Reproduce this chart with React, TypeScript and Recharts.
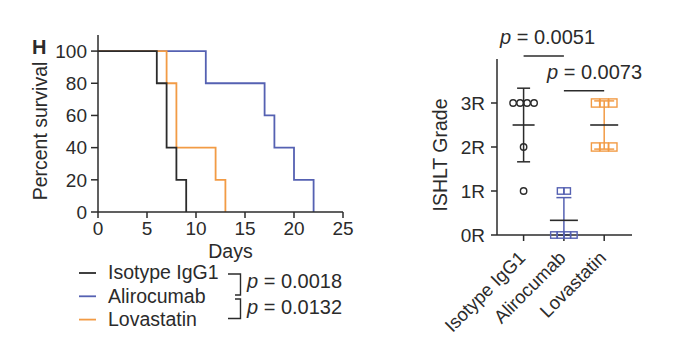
import { LineChart, Line, XAxis, YAxis, ScatterChart, Scatter, ErrorBar, ReferenceLine } from 'recharts';

const FONT = '"Liberation Sans", Arial, Helvetica, sans-serif';
const INK = '#2b2b2b';
const BLUE = '#5561b2';
const ORANGE = '#f29b45';

// Kaplan-Meier steps (day of event, percent surviving after it)
const isotypeDays = [0, 6, 7, 8, 9];
const isotypeSurvival = [100, 80, 40, 20, 0];
const alirocumabDays = [0, 11, 17, 18, 20, 22];
const alirocumabSurvival = [100, 80, 60, 40, 20, 0];
const lovastatinDays = [0, 7, 8, 12, 13];
const lovastatinSurvival = [100, 80, 40, 20, 0];

const dayTicks = [0, 5, 10, 15, 20, 25];
const survivalTicks = [0, 20, 40, 60, 80, 100];

// ISHLT rejection grade per graft
const groups = ['Isotype IgG1', 'Alirocumab', 'Lovastatin'];
const isotypeGrades = [3, 3, 3, 3, 2, 1];
const alirocumabGrades = [1, 1, 0, 0, 0, 0];
const lovastatinGrades = [3, 3, 3, 2, 2, 2];
const gradeTicks = [0, 1, 2, 3];
const gradeLabels = ['0R', '1R', '2R', '3R'];

const survivalPValues = ['0.0018', '0.0132'];
const gradePValues = ['0.0051', '0.0073'];

const zip = (days: number[], pct: number[]) => days.map((d, i) => ({ day: d, pct: pct[i] }));

// spread tied values side by side, like a column scatter
function toPoints(values: number[], group: number) {
  const counts: Record<number, number> = {};
  const seen: Record<number, number> = {};
  values.forEach((v) => (counts[v] = (counts[v] || 0) + 1));
  return values.map((v) => {
    seen[v] = (seen[v] ?? -1) + 1;
    return { group, grade: v, slot: seen[v] - (counts[v] - 1) / 2 };
  });
}

function meanSd(values: number[], group: number) {
  const n = values.length;
  const mean = values.reduce((a, b) => a + b, 0) / n;
  const sd = Math.sqrt(values.reduce((a, b) => a + (b - mean) ** 2, 0) / (n - 1));
  return [{ group, grade: mean, err: [Math.min(sd, mean), sd] }];
}

const circle = (step: number, color: string) => (p: any) => (
  <circle cx={p.cx + p.payload.slot * step} cy={p.cy} r={3.2} fill="none" stroke={color} strokeWidth={1.4} />
);
const square = (step: number, size: number, color: string) => (p: any) => (
  <rect x={p.cx + p.payload.slot * step - size / 2} y={p.cy - size / 2} width={size} height={size} fill="none" stroke={color} strokeWidth={1.4} />
);
const meanBar = (half: number, color: string) => (p: any) => (
  <line x1={p.cx - half} x2={p.cx + half} y1={p.cy} y2={p.cy} stroke={color} strokeWidth={1.6} />
);

function GroupTick({ x, y, payload }: any) {
  const px = x + 3;
  const py = y + 16;
  return (
    <text x={px} y={py} transform={`rotate(-45 ${px} ${py})`} textAnchor="end" fontSize={18.5} fill={INK} fontFamily={FONT}>
      {groups[payload.value - 1]}
    </text>
  );
}

const tickStyle = { fontSize: 19, fill: INK, fontFamily: FONT };
const axisLine = { stroke: INK, strokeWidth: 1.5 };

export default function App() {
  const legend = [
    { name: 'Isotype IgG1', color: INK },
    { name: 'Alirocumab', color: BLUE },
    { name: 'Lovastatin', color: ORANGE },
  ];

  return (
    <div style={{ position: 'absolute', left: 0, top: 0, width: 692, height: 340, background: '#fff', overflow: 'hidden', fontFamily: FONT }}>
      <div style={{ position: 'absolute', left: 0, top: 0 }}>
        <LineChart width={360} height={265} margin={{ top: 35, right: 17, bottom: 0, left: 0 }}>
          <XAxis
            dataKey="day"
            type="number"
            domain={[0, 25]}
            ticks={dayTicks}
            interval={0}
            height={53}
            tickSize={6}
            tickMargin={4}
            tick={tickStyle}
            axisLine={axisLine}
            tickLine={axisLine}
          />
          <YAxis
            type="number"
            domain={[0, 110]}
            ticks={survivalTicks}
            interval={0}
            width={98}
            tickSize={7}
            tickMargin={4}
            tick={tickStyle}
            axisLine={axisLine}
            tickLine={axisLine}
          />
          <Line data={zip(alirocumabDays, alirocumabSurvival)} dataKey="pct" type="stepAfter" stroke={BLUE} strokeWidth={1.8} dot={false} isAnimationActive={false} />
          <Line data={zip(lovastatinDays, lovastatinSurvival)} dataKey="pct" type="stepAfter" stroke={ORANGE} strokeWidth={1.8} dot={false} isAnimationActive={false} />
          <Line data={zip(isotypeDays, isotypeSurvival)} dataKey="pct" type="stepAfter" stroke={INK} strokeWidth={1.8} dot={false} isAnimationActive={false} />
        </LineChart>
      </div>

      <div style={{ position: 'absolute', left: 400, top: 0 }}>
        <ScatterChart width={280} height={340} margin={{ top: 59, right: 48, bottom: 0, left: 0 }}>
          <XAxis
            dataKey="group"
            type="number"
            domain={[0.34, 3.69]}
            ticks={[1, 2, 3]}
            interval={0}
            height={105}
            tickSize={6}
            tick={<GroupTick />}
            axisLine={axisLine}
            tickLine={axisLine}
          />
          <YAxis
            dataKey="grade"
            type="number"
            domain={[0, 4]}
            ticks={gradeTicks}
            interval={0}
            width={97}
            tickSize={6}
            tickMargin={6}
            tickFormatter={(v: number) => gradeLabels[v]}
            tick={tickStyle}
            axisLine={axisLine}
            tickLine={axisLine}
          />
          <ReferenceLine segment={[{ x: 1, y: 4.07 }, { x: 2, y: 4.07 }]} ifOverflow="visible" stroke={INK} strokeWidth={1.5} />
          <ReferenceLine segment={[{ x: 2, y: 3.28 }, { x: 3, y: 3.28 }]} ifOverflow="visible" stroke={INK} strokeWidth={1.5} />

          <Scatter data={meanSd(isotypeGrades, 1)} shape={meanBar(11, INK)} isAnimationActive={false}>
            <ErrorBar dataKey="err" direction="y" width={6.5} stroke={INK} strokeWidth={1.5} />
          </Scatter>
          <Scatter data={meanSd(alirocumabGrades, 2)} shape={meanBar(14, INK)} isAnimationActive={false}>
            <ErrorBar dataKey="err" direction="y" width={7.5} stroke={BLUE} strokeWidth={1.5} />
          </Scatter>
          <Scatter data={meanSd(lovastatinGrades, 3)} shape={meanBar(14, INK)} isAnimationActive={false}>
            <ErrorBar dataKey="err" direction="y" width={10} stroke={ORANGE} strokeWidth={1.5} />
          </Scatter>

          <Scatter data={toPoints(isotypeGrades, 1)} shape={circle(7, INK)} isAnimationActive={false} />
          <Scatter data={toPoints(alirocumabGrades, 2)} shape={square(6.7, 6.4, BLUE)} isAnimationActive={false} />
          <Scatter data={toPoints(lovastatinGrades, 3)} shape={square(8.7, 8.2, ORANGE)} isAnimationActive={false} />
        </ScatterChart>
      </div>

      <svg width={692} height={340} style={{ position: 'absolute', left: 0, top: 0, pointerEvents: 'none' }} fontFamily={FONT} fill={INK}>
        <text x={32} y={53.5} fontSize={20} fontWeight="bold">H</text>
        <text transform="translate(47 131) rotate(-90)" textAnchor="middle" fontSize={19.5}>Percent survival</text>
        <text x={230.5} y={258} textAnchor="middle" fontSize={19.5}>Days</text>
        <text transform="translate(446.5 155) rotate(-90)" textAnchor="middle" fontSize={19.5}>ISHLT Grade</text>

        {legend.map((s, i) => (
          <g key={s.name}>
            <line x1={79} x2={96} y1={273 + i * 23.3} y2={273 + i * 23.3} stroke={s.color} strokeWidth={1.8} />
            <text x={108} y={279 + i * 23.5} fontSize={19.5}>{s.name}</text>
          </g>
        ))}
        <path d="M228 274 H240.5 V295 H235" fill="none" stroke={INK} strokeWidth={1.4} />
        <path d="M235 299 H240.5 V318.5 H228" fill="none" stroke={INK} strokeWidth={1.4} />
        <text x={247} y={288} fontSize={20}><tspan fontStyle="italic">p</tspan> = {survivalPValues[0]}</text>
        <text x={247} y={313.5} fontSize={20}><tspan fontStyle="italic">p</tspan> = {survivalPValues[1]}</text>

        <text x={500} y={43.5} fontSize={20}><tspan fontStyle="italic">p</tspan> = {gradePValues[0]}</text>
        <text x={547} y={78.5} fontSize={20}><tspan fontStyle="italic">p</tspan> = {gradePValues[1]}</text>
      </svg>
    </div>
  );
}
